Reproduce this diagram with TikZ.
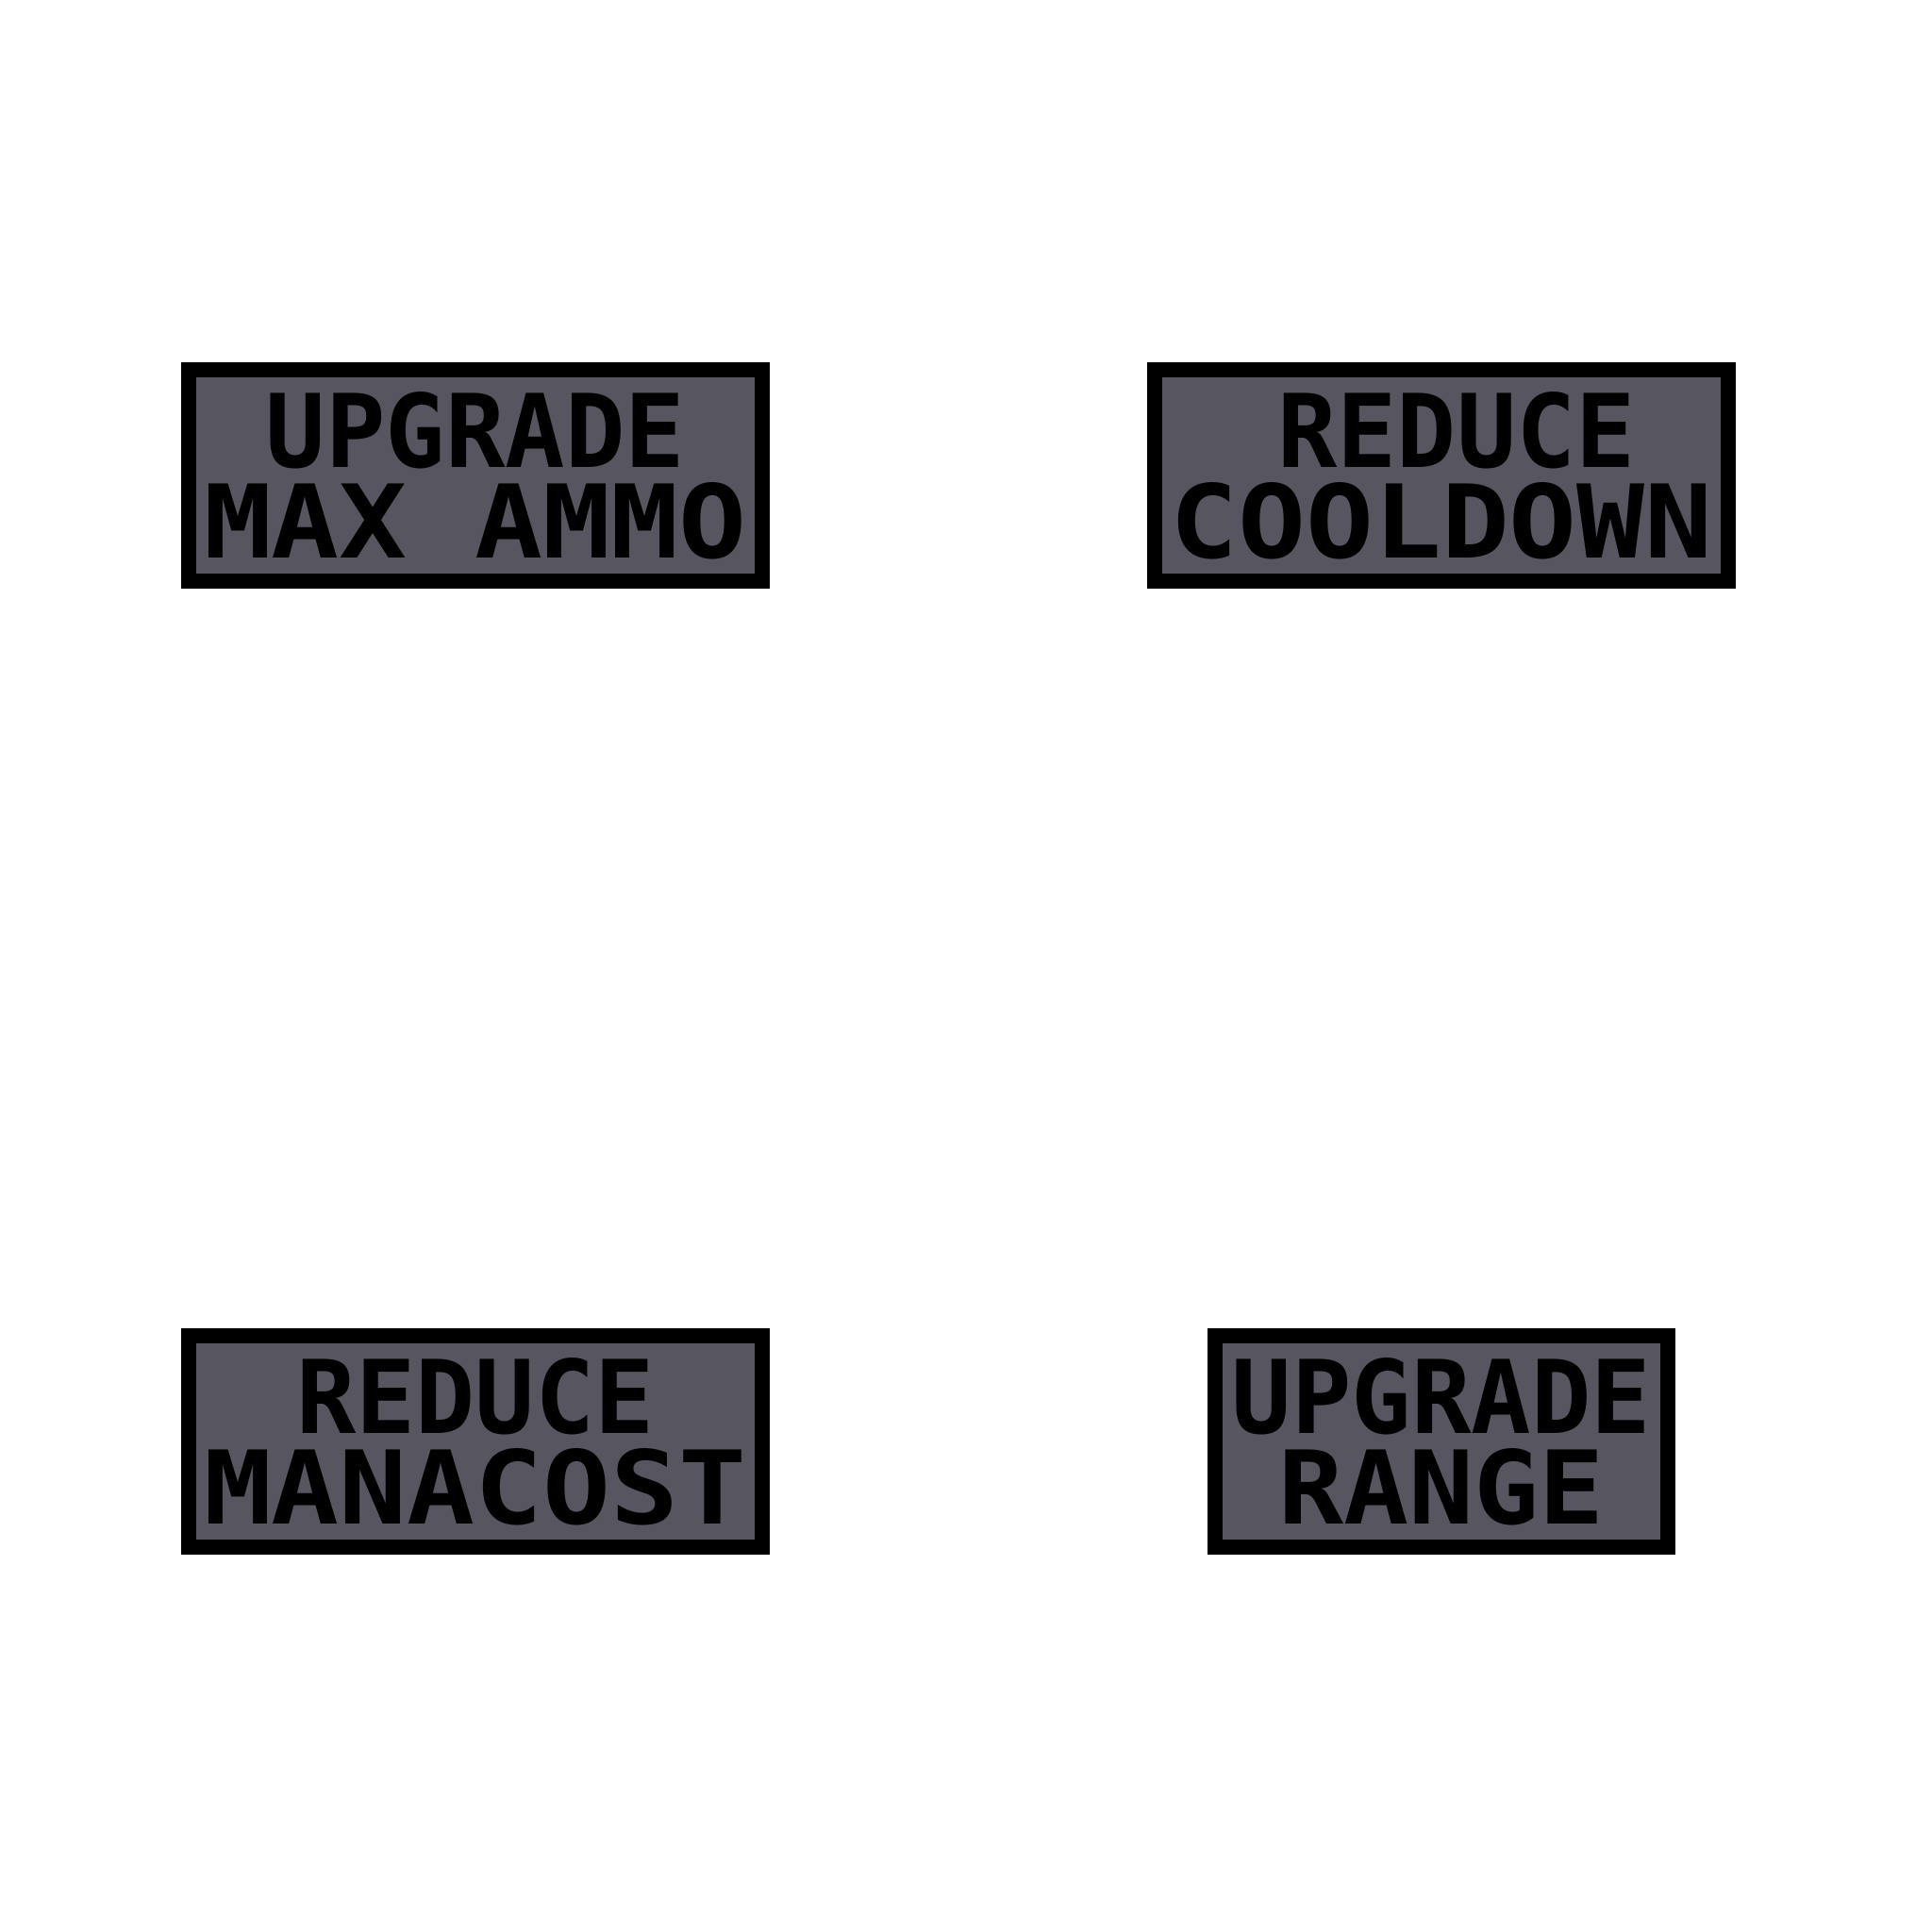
\documentclass[tikz,border=0pt]{standalone}
\usepackage{fontspec}
\usepackage{graphicx}
\setmonofont{DejaVu Sans Mono}
\definecolor{panelgray}{RGB}{87,85,96}
\newcommand{\pxtext}[2]{\resizebox{#1mm}{5mm}{\ttfamily\bfseries #2}}
\tikzset{
  panel/.style={rectangle, draw=black, fill=panelgray, line width=1mm,
    inner sep=0pt, outer sep=0pt, minimum height=14mm},
  label/.style={inner sep=0pt, outer sep=0pt, text=black}
}
\begin{document}
\begin{tikzpicture}[x=1mm,y=1mm]
\useasboundingbox (0,0) rectangle (128,128);
\fill[white] (0,0) rectangle (128,128);
% top-left
\node[panel, minimum width=38mm] (b1) at (31.5,96.5) {};
\node[label] (b1a) at (31.5,99.5) {\pxtext{27.8}{UPGRADE}};
\node[label] (b1b) at (31.5,93.5) {\pxtext{36}{MAX AMMO}};
% top-right
\node[panel, minimum width=38mm] (b2) at (95.5,96.5) {};
\node[label] (b2a) at (96.5,99.5) {\pxtext{23.7}{REDUCE}};
\node[label] (b2b) at (95.5,93.5) {\pxtext{36}{COOLDOWN}};
% bottom-left
\node[panel, minimum width=38mm] (b3) at (31.5,32.5) {};
\node[label] (b3a) at (31.5,35.5) {\pxtext{23.7}{REDUCE}};
\node[label] (b3b) at (31.5,29.5) {\pxtext{36}{MANACOST}};
% bottom-right
\node[panel, minimum width=30mm] (b4) at (95.5,32.5) {};
\node[label] (b4a) at (95.5,35.5) {\pxtext{27.8}{UPGRADE}};
\node[label] (b4b) at (95.5,29.5) {\pxtext{21.6}{RANGE}};
\end{tikzpicture}
\end{document}
